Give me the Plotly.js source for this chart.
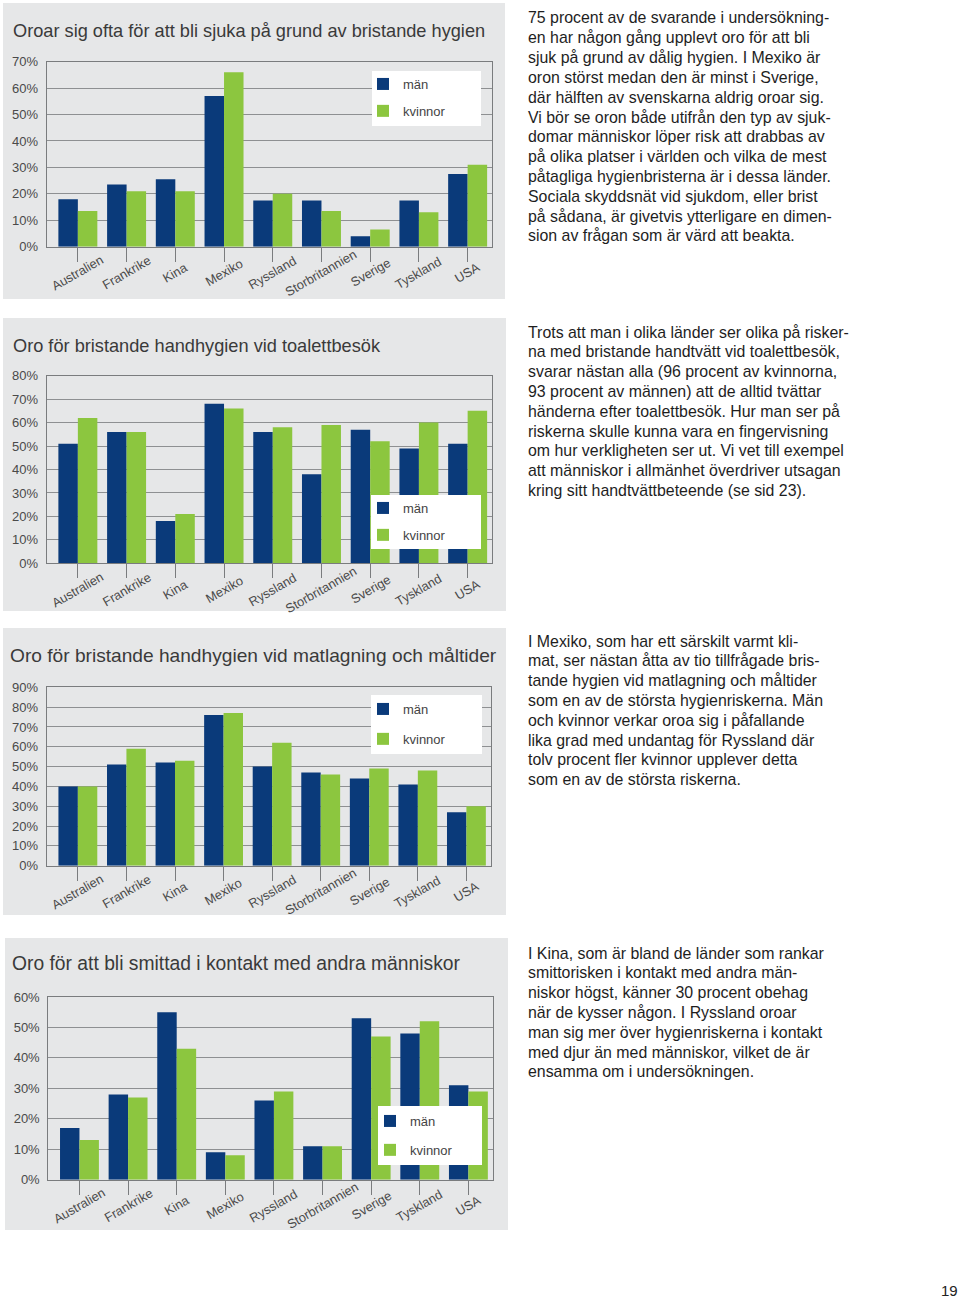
<!DOCTYPE html>
<html>
<head>
<meta charset="utf-8">
<script src="https://cdn.plot.ly/plotly-3.0.1.min.js"></script>
<style>
html,body{margin:0;padding:0;background:#fff;}
#chart{width:960px;height:1298px;}
</style>
</head>
<body>
<div id="chart"></div>
<script>
// ---------- data ----------
const categories = ['Australien','Frankrike','Kina','Mexiko','Ryssland','Storbritannien','Sverige','Tyskland','USA'];
const seriesNames = ['män','kvinnor'];

const titles = [
  'Oroar sig ofta för att bli sjuka på grund av bristande hygien',
  'Oro för bristande handhygien vid toalettbesök',
  'Oro för bristande handhygien vid matlagning och måltider',
  'Oro för att bli smittad i kontakt med andra människor'
];

const sjukaMan     = [18, 23.5, 25.5, 57, 17.5, 17.5, 4, 17.5, 27.5];
const sjukaKvinnor = [13.5, 21, 21, 66, 20, 13.5, 6.5, 13, 31];

const toalettMan     = [51, 56, 18, 68, 56, 38, 57, 49, 51];
const toalettKvinnor = [62, 56, 21, 66, 58, 59, 52, 60, 65];

const matMan     = [40, 51, 52, 76, 50, 47, 44, 41, 27];
const matKvinnor = [40, 59, 53, 77, 62, 46, 49, 48, 30];

const smittaMan     = [17, 28, 55, 9, 26, 11, 53, 48, 31];
const smittaKvinnor = [13, 27, 43, 8, 29, 11, 47, 52, 29];

const yMax = [70, 80, 90, 60];

const paragraphs = [
  ['75 procent av de svarande i undersökning-','en har någon gång upplevt oro för att bli','sjuk på grund av dålig hygien. I Mexiko är','oron störst medan den är minst i Sverige,','där hälften av svenskarna aldrig oroar sig.','Vi bör se oron både utifrån den typ av sjuk-','domar människor löper risk att drabbas av','på olika platser i världen och vilka de mest','påtagliga hygienbristerna är i dessa länder.','Sociala skyddsnät vid sjukdom, eller brist','på sådana, är givetvis ytterligare en dimen-','sion av frågan som är värd att beakta.'],
  ['Trots att man i olika länder ser olika på risker-','na med bristande handtvätt vid toalettbesök,','svarar nästan alla (96 procent av kvinnorna,','93 procent av männen) att de alltid tvättar','händerna efter toalettbesök. Hur man ser på','riskerna skulle kunna vara en fingervisning','om hur verkligheten ser ut. Vi vet till exempel','att människor i allmänhet överdriver utsagan','kring sitt handtvättbeteende (se sid 23).'],
  ['I Mexiko, som har ett särskilt varmt kli-','mat, ser nästan åtta av tio tillfrågade bris-','tande hygien vid matlagning och måltider','som en av de största hygienriskerna. Män','och kvinnor verkar oroa sig i påfallande','lika grad med undantag för Ryssland där','tolv procent fler kvinnor upplever detta','som en av de största riskerna.'],
  ['I Kina, som är bland de länder som rankar','smittorisken i kontakt med andra män-','niskor högst, känner 30 procent obehag','när de kysser någon. I Ryssland oroar','man sig mer över hygienriskerna i kontakt','med djur än med människor, vilket de är','ensamma om i undersökningen.']
];
const pageNumber = '19';

const menSeries = [sjukaMan, toalettMan, matMan, smittaMan];
const womenSeries = [sjukaKvinnor, toalettKvinnor, matKvinnor, smittaKvinnor];

// ---------- layout geometry (pixels) ----------
const W = 960, H = 1298;
const px = x => x / W;
const py = y => 1 - y / H;

const geom = [
  {panel:[3,3,505,299],     plot:[46.7,61.7,492,246.7],   title:[11,31],  tsize:18.2, legBox:[372,71,481,126],    legPos:[363,69],   legGap:7,  para:18},
  {panel:[3,318,506,611],   plot:[46.7,375.7,492,563.3],  title:[11,346], tsize:18.2, legBox:[371,495,481,549],   legPos:[363,493],  legGap:7,  para:332},
  {panel:[3,628,506,915],   plot:[46.7,687.3,490.7,865.7],title:[8,655],  tsize:19.15,legBox:[371,695,482,754],   legPos:[363,694],  legGap:10, para:641},
  {panel:[5,938,508,1230],  plot:[48.3,997,492.7,1179.7], title:[10,963], tsize:19.3, legBox:[378,1106,482,1165], legPos:[370,1106], legGap:9,  para:953}
];
const LINE_H = 19.8;

const BLUE = '#0a3a7a';
const GREEN = '#8cc63f';
const PANEL = '#e6e7e8';
const GRID = '#8e9092';
const FONT = 'Liberation Sans, Arial, Helvetica, sans-serif';

const traces = [];
const layout = {
  width: W, height: H, autosize: false,
  margin: {l:0, r:0, t:0, b:0, pad:0},
  paper_bgcolor: '#ffffff',
  plot_bgcolor: 'rgba(0,0,0,0)',
  barmode: 'group', bargap: 0.2, bargroupgap: 0,
  font: {family: FONT, color: '#444'},
  shapes: [], annotations: [],
  hovermode: false
};

geom.forEach((g, i) => {
  const s = i === 0 ? '' : String(i + 1);
  const legName = 'legend' + s;
  traces.push({
    type: 'bar', x: categories, y: menSeries[i], name: seriesNames[0],
    marker: {color: BLUE, line: {width: 0}},
    xaxis: 'x' + s, yaxis: 'y' + s, legend: legName, legendgroup: 'm' + i,
    hoverinfo: 'skip'
  });
  traces.push({
    type: 'bar', x: categories, y: womenSeries[i], name: seriesNames[1],
    marker: {color: GREEN, line: {width: 0}},
    xaxis: 'x' + s, yaxis: 'y' + s, legend: legName, legendgroup: 'k' + i,
    hoverinfo: 'skip'
  });

  const [l, t, r, b] = g.plot;
  layout['xaxis' + s] = {
    domain: [px(l), px(r)], anchor: 'y' + s, type: 'category',
    showline: true, mirror: true, linecolor: '#7a7c7e', linewidth: 1,
    ticks: 'outside', ticklen: 14, tickcolor: '#7a7c7e', tickwidth: 1,
    showticklabels: false, showgrid: false, fixedrange: true
  };
  layout['yaxis' + s] = {
    domain: [py(b), py(t)], anchor: 'x' + s,
    range: [0, yMax[i]], dtick: 10, ticksuffix: '%',
    showgrid: true, gridcolor: GRID, gridwidth: 1,
    showline: true, mirror: true, linecolor: '#7a7c7e', linewidth: 1,
    ticks: '', ticklabelstandoff: 5, zeroline: false,
    tickfont: {family: FONT, size: 13, color: '#4a4a4a'}, fixedrange: true
  };

  // gray panel
  const [pl, pt, pr, pb] = g.panel;
  layout.shapes.push({type:'rect', xref:'paper', yref:'paper', x0:px(pl), x1:px(pr), y0:py(pb), y1:py(pt),
    fillcolor: PANEL, line:{width:0}, layer:'below'});
  // legend white box
  const [bl, bt, br, bb] = g.legBox;
  layout.shapes.push({type:'rect', xref:'paper', yref:'paper', x0:px(bl), x1:px(br), y0:py(bb), y1:py(bt),
    fillcolor: '#ffffff', line:{width:0}, layer:'above'});

  layout[legName] = {
    x: px(g.legPos[0]), y: py(g.legPos[1]), xanchor: 'left', yanchor: 'top',
    bgcolor: 'rgba(0,0,0,0)', borderwidth: 0,
    font: {family: FONT, size: 13, color: '#444'},
    traceorder: 'grouped', tracegroupgap: g.legGap
  };

  // title
  layout.annotations.push({
    xref:'paper', yref:'paper', x: px(g.title[0]), y: py(g.title[1]),
    xanchor:'left', yanchor:'middle', showarrow:false, text: titles[i],
    font:{family: FONT, size: g.tsize, color:'#3a3a3a'}
  });

  // category labels (rotated, centred under each category)
  categories.forEach(c => {
    layout.annotations.push({
      xref:'x' + s, yref:'y' + s, x: c, y: 0, yshift: -26,
      xanchor:'center', yanchor:'middle', textangle: -30, showarrow:false,
      text: c, font:{family: FONT, size: 12.8, color:'#4a4a4a'}
    });
  });

  // paragraph, one line per annotation for exact leading
  paragraphs[i].forEach((line, k) => {
    layout.annotations.push({
      xref:'paper', yref:'paper', x: px(526), y: py(g.para + k * LINE_H),
      xanchor:'left', yanchor:'middle', align:'left', showarrow:false,
      text: line, font:{family: FONT, size: 15.9, color:'#1e1e1e'}
    });
  });
});

layout.annotations.push({
  xref:'paper', yref:'paper', x: px(960), y: py(1290),
  xanchor:'right', yanchor:'middle', showarrow:false,
  text: pageNumber, font:{family: FONT, size: 15, color:'#222'}
});

Plotly.newPlot('chart', traces, layout, {staticPlot: true, displayModeBar: false});
</script>
</body>
</html>
